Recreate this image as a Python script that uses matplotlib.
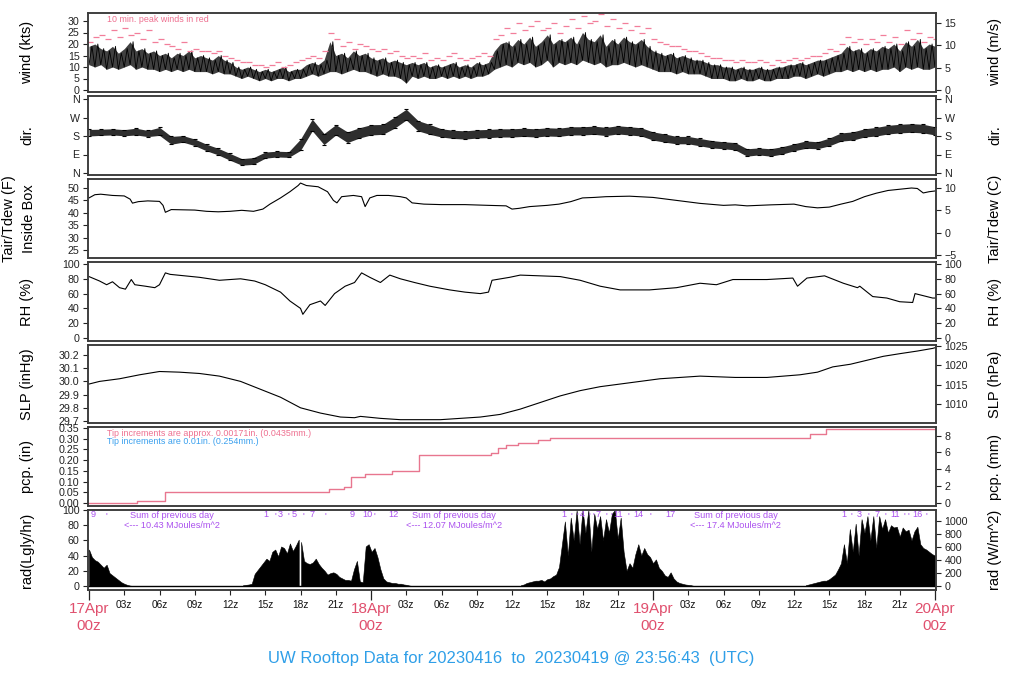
import numpy as np
import matplotlib
matplotlib.use("Agg")
import matplotlib.pyplot as plt
from matplotlib.transforms import blended_transform_factory

plt.rcParams['font.family'] = ['Liberation Sans', 'DejaVu Sans']

# ---------------- data (time in hours from 17Apr 00z) ----------------
wind_step = 0.5
wind_hi = [19,20,18,17,19,16,18,21,17,18,16,
           17,15,16,14,16,15,17,14,15,
           14,13,15,13,12,
           10,9,10,9,
           8,9,8,9,10,8,9,9,
           11,12,11,13,
           21,15,16,14,17,15,16,14,
           13,14,12,13,12,
           11,
           12,11,12,10,
           11,10,11,12,10,11,10,12,11,12,
           17,20,
           21,19,22,20,23,19,21,24,20,22,21,23,20,25,22,21,24,19,22,20,23,21,20,22,19,
           17,16,15,16,14,15,14,13,13,
           12,11,11,10,10,9,10,9,
           9,10,9,9,10,10,
           11,11,12,11,12,13,
           13,14,15,16,
           19,17,18,16,18,17,
           19,18,20,17,21,19,22,18,20,19]
wind_lo = [11,10,11,9,10,9,10,11,9,10,9,
           9,8,9,8,9,8,9,8,8,
           8,7,8,7,7,
           6,5,6,5,
           4,5,4,5,5,4,5,5,
           6,7,6,7,
           8,8,7,8,9,8,8,7,
           6,7,6,6,5,
           3,
           6,5,6,5,
           5,6,5,6,5,6,5,6,6,7,
           9,10,
           11,10,12,11,12,10,11,13,10,12,11,12,11,13,12,11,12,10,11,11,12,11,10,11,10,
           9,8,8,8,7,8,7,7,7,
           6,5,5,5,4,4,5,4,
           4,5,4,4,5,5,
           5,6,6,5,6,7,
           6,7,8,8,
           9,8,9,8,9,8,
           9,9,10,8,10,9,10,9,9,10]
wind_peak = [21,23,24,22,26,23,27,24,25,22,26,
             21,22,20,19,18,21,17,18,17,
             17,16,17,15,14,
             13,12,12,11,
             11,10,11,12,10,11,12,13,
             14,15,14,17,
             25,22,19,21,18,20,19,18,
             17,18,16,17,15,
             14,
             15,14,16,13,
             14,13,15,16,14,13,14,15,16,15,
             22,24,
             27,25,29,26,28,30,26,27,29,25,28,31,27,32,29,30,33,28,31,27,29,26,28,25,27,
             22,21,20,19,19,18,17,17,16,
             15,14,14,13,13,12,13,12,
             12,13,12,11,13,12,
             13,14,13,14,15,15,
             16,18,17,20,
             23,21,22,20,22,21,
             24,21,23,20,26,22,25,21,23,22]

dir_step = 1.0
dir_lo = [180,183,185,181,185,177,183,140,150,133,108,88,62,38,42,72,78,76,110,205,
          138,185,148,170,185,188,218,258,205,188,175,168,165,170,172,175,175,178,175,180,
          178,185,185,188,182,190,185,180,160,150,142,142,132,122,118,112,82,88,82,92,
          108,120,118,132,155,160,175,180,190,195,198,195,185]
dir_hi = [212,213,215,211,218,207,222,178,182,165,140,120,95,70,75,102,106,104,165,262,
          192,235,200,220,235,236,272,310,255,236,215,208,205,210,212,215,215,218,215,220,
          218,225,225,228,222,230,225,220,200,190,178,178,168,158,152,148,118,122,118,128,
          142,156,152,170,195,200,215,222,232,237,240,237,225]

tair_t = [0,0.5,1,2,3,3.5,3.7,4.2,5,6,6.3,6.5,7,8,9,10,11,12,13,14,14.8,15.4,16.3,17.1,17.8,18,
          18.5,19.5,20.3,20.8,21.1,21.5,22.5,23.2,23.5,23.9,24.5,25.5,26.5,27,27.5,28.5,30,32,34,
          35.5,36,36.6,37.5,39,40,41,42,43,44,46,48,50,52,54,55,56,58,60,61,62,63,64,65,66,67,68,
          69,70,70.5,71,71.5,72]
tair_f = [46,47.3,47.5,47,46.8,45.5,43.9,44.5,44.8,44.6,43,40.2,41.3,41.2,41.1,40.6,40.4,40.6,41,
          40.6,41.5,43.5,46,48.5,51,52,51,50.5,48.5,45,44,46.5,47,46.5,42.5,46,47,47,46.5,46,44,
          43.5,43.3,43.3,43,42.8,41.5,41.8,42.5,43,43.5,44.5,46,46.2,46.5,46.7,46.2,45,43.8,43,
          43.2,42.8,43.2,43.5,42.5,42,42.3,43.5,44.6,46.5,47.9,49,49.5,50,49.8,48,48.5,48.8]

rh_t = [0,0.9,1.5,2.0,2.6,3.1,3.6,3.9,4.8,5.6,6.0,6.5,6.9,9.4,11.1,12.9,14.1,15,16.3,17.1,18,
        18.2,18.8,19.7,20.1,20.9,21.8,22.6,23.2,23.9,24.8,25.6,26.5,27.7,29,30.7,32,33.3,34,
        34.3,35.8,36.7,40.1,41.8,43.5,45.2,47.7,50,52,53.4,54.8,57.7,59.9,60.3,61.1,62.6,64.2,
        65.4,65.6,66.7,67.9,69,70.1,70.3,71.8,72]
rh_v = [83,77,72,76,68,66,79,72,70,68,72,88,86,82,78,80,77,72,62,50,40,32,45,50,44,60,70,75,
        88,82,75,85,80,75,70,65,62,60,62,78,82,85,83,78,70,65,65,68,74,72,79,79,81,70,81,84,
        74,68,70,56,54,49,48,60,54,54]

slp_t = [0,0.9,2.6,4.3,6,7.7,9.4,11.1,12.9,14.6,16.3,18,19.7,21.4,22.6,23.1,24.8,26.5,29.9,
         33.3,35,36.7,38.4,40.1,41.8,43.5,45.2,46.9,48.6,50.3,52,55,57.7,60.5,62,63.3,64.8,
         66.2,67.6,69,70.5,71.8,72]
slp_v = [29.98,30.0,30.02,30.05,30.075,30.07,30.06,30.04,30.0,29.94,29.88,29.80,29.76,29.73,
         29.725,29.735,29.72,29.71,29.71,29.73,29.75,29.79,29.84,29.89,29.93,29.96,29.98,30.0,
         30.02,30.03,30.04,30.03,30.03,30.05,30.07,30.11,30.13,30.16,30.19,30.21,30.23,30.25,
         30.255]

pcp_t = [0,4.1,6.3,6.45,20.4,21.7,22.3,23.5,25.8,28.1,34.2,34.8,35.5,36.5,38.2,39.2,61.4,62.7,72]
pcp_v = [0.0,0.008,0.01,0.05,0.065,0.075,0.12,0.135,0.15,0.225,0.235,0.255,0.27,0.28,0.295,
         0.302,0.32,0.344,0.344]

rad_step = 0.25
radA_start = 0.0
radA = [48,38,34,32,28,24,28,17,14,11,8,5,3,1.5,0.5,0]
radB1_start = 13.1
radB1 = [1,1.5,2,3,16,21,26,31,36,33,45,48,39,52,50,43,56,46,53,61]
radB2_start = 18.05
radB2 = [58,33,30,29,31,36,29,24,20,15,17,18,16,12,10,8,8,7,22,33,6,5,52,55,45,50,38,22,
         10,6,5,4,4,3,3,2,1.5,0.5,0]
radC_start = 36.75
radC = [1,2,4,5,6,7,7,8,6,9,10,13,15,25,55,85,40,90,60,100,55,100,70,100,45,95,75,92,60,88,
        70,95,100,62,90,45,20,30,24,42,55,40,50,42,38,30,35,24,20,14,12,18,10,6,4,3,2,1.5,1,0]
radD_start = 61.0
radD = [1,2,3,4,5,6,7,7,9,12,15,22,30,55,30,75,45,82,40,88,70,92,60,92,50,92,75,88,70,80,77,
        78,65,77,72,74,60,72,78,55,50,48,45,42,40]

rad_marks_t = [0.34,1.5,15.06,15.83,16.31,16.94,17.45,18.21,18.95,20.09,22.38,23.66,24.26,25.87,
               40.43,41.02,41.53,41.96,42.55,42.89,43.32,44.0,44.43,45.02,45.87,46.72,47.74,49.45,
               64.26,64.85,65.53,66.3,67.06,67.74,68.6,69.36,69.7,70.55,71.3]
rad_marks = ['9',"'",'1',"'",'3',"'",'5',"'",'7',"'",'9','10',"'",'12',
             '1',"'","'",'4',"'","'",'7',"'","'",'11',"'",'14',"'",'17',
             '1',"'",'3',"'",'7',"'",'11',"'","'",'16',"'"]
sum_t = [7.03, 31.1, 55.05]
sum_vals = ['10.43', '12.07', '17.4']

hour_ticks = [3,6,9,12,15,18,21,27,30,33,36,39,42,45,51,54,57,60,63,66,69]
hour_labels = ['03z','06z','09z','12z','15z','18z','21z','03z','06z','09z','12z','15z','18z',
               '21z','03z','06z','09z','12z','15z','18z','21z']
day_ticks = [0,24,48,72]
day_labels = ['17Apr','18Apr','19Apr','20Apr']

title = "UW Rooftop Data for 20230416  to  20230419 @ 23:56:43  (UTC)"

# ---------------- figure ----------------
W, H = 1024.0, 700.0
fig = plt.figure(figsize=(10.24, 7.0), dpi=100)
L, R = 88, 936
panels_px = [(13, 92), (96, 175), (179, 258), (262, 341), (345, 423), (427, 506), (510, 590)]
# (value, pixel row) pairs for each panel's left scale
calib = [((0, 90), (30, 21)), ((0, 173), (360, 99)), ((25, 250), (50, 188)),
         ((0, 338), (100, 264)), ((29.7, 421), (30.2, 355)), ((0, 503), (0.35, 428)),
         ((0, 586), (100, 510))]
XL = (-1/11.75, 72 + 1/11.75)
frame = '#3a3a3a'
tfs = 7.7
red_txt = '#e0506e'
pink = '#ee7090'
peak_col = '#f27e9a'
purple = '#aa50ee'
blue = '#2f9fe8'


def ylim_for(i):
    (v0, p0), (v1, p1) = calib[i]
    top, bot = panels_px[i]
    k = (v1 - v0) / (p1 - p0)
    return (v0 + (bot - p0) * k, v0 + (top - p0) * k)


def mk(i):
    top, bot = panels_px[i]
    ax = fig.add_axes([L/W, 1-bot/H, (R-L)/W, (bot-top)/H])
    ax.set_xlim(*XL)
    ax.set_ylim(*ylim_for(i))
    ax.tick_params(axis='x', which='both', bottom=False, labelbottom=False)
    ax.tick_params(axis='y', direction='out', length=3.6, width=0.8, labelsize=tfs, pad=2.5,
                   colors='#222222')
    for s in ax.spines.values():
        s.set_color(frame)
        s.set_linewidth(1.1)
    return ax


def twin(ax, f, ticks, labels=None):
    tw = ax.twinx()
    lo, hi = ax.get_ylim()
    tw.set_ylim(f(lo), f(hi))
    tw.set_yticks(ticks)
    if labels is not None:
        tw.set_yticklabels(labels)
    tw.tick_params(axis='y', direction='out', length=3.6, width=0.8, labelsize=tfs, pad=2.5,
                   colors='#222222')
    for s in tw.spines.values():
        s.set_color(frame)
        s.set_linewidth(1.1)
    return tw


def fy(px):
    return 1 - px/H


def side_labels(i, left, right, left2=None):
    top, bot = panels_px[i]
    yc = fy((top+bot)/2)
    if left2 is None:
        fig.text(27/W, yc, left, rotation=90, ha='center', va='center', fontsize=10.5)
    else:
        fig.text(9/W, yc, left, rotation=90, ha='center', va='center', fontsize=10.5)
        fig.text(29/W, yc, left2, rotation=90, ha='center', va='center', fontsize=10.5)
    fig.text(995/W, yc, right, rotation=90, ha='center', va='center', fontsize=10.5)


ident = lambda v: v

# wind
ax = mk(0)
tw_ = np.arange(len(wind_hi)) * wind_step
ax.fill_between(tw_, wind_lo, wind_hi, color='black', lw=0, alpha=0.75)
zz_t = np.column_stack([tw_, tw_ + wind_step/2]).ravel()
zz_v = np.column_stack([wind_lo, wind_hi]).ravel()
ax.plot(zz_t, zz_v, color='black', lw=0.6)
ax.plot(tw_ + 0.1, wind_peak, ls='none', marker='_', ms=4, mew=0.9, color=peak_col)
ax.set_yticks(range(0, 31, 5))
twin(ax, lambda v: v * 0.5144, [0, 5, 10, 15])
fig.text(107/W, fy(19), '10 min. peak winds in red', fontsize=6.4, color=pink, va='center')
side_labels(0, 'wind (kts)', 'wind (m/s)')

# direction
ax = mk(1)
td = np.arange(len(dir_lo)) * dir_step
ax.fill_between(td, dir_lo, dir_hi, color='#111111', lw=0, alpha=0.88)
ax.plot(td, dir_lo, ls='none', marker='_', ms=3.5, mew=0.8, color='black')
ax.plot(td, dir_hi, ls='none', marker='_', ms=3.5, mew=0.8, color='black')
ax.set_yticks([0, 90, 180, 270, 360])
ax.set_yticklabels(['N', 'E', 'S', 'W', 'N'])
twin(ax, ident, [0, 90, 180, 270, 360], ['N', 'E', 'S', 'W', 'N'])
side_labels(1, 'dir.', 'dir.')

# temperature
ax = mk(2)
ax.plot(tair_t, tair_f, color='black', lw=0.8)
ax.set_yticks(range(25, 51, 5))
twin(ax, lambda v: (v - 32) * 5 / 9, [-5, 0, 5, 10])
side_labels(2, 'Tair/Tdew (F)', 'Tair/Tdew (C)', left2='Inside Box')

# RH
ax = mk(3)
ax.plot(rh_t, rh_v, color='black', lw=0.8)
ax.set_yticks(range(0, 101, 20))
twin(ax, ident, range(0, 101, 20))
side_labels(3, 'RH (%)', 'RH (%)')

# SLP
ax = mk(4)
ax.plot(slp_t, slp_v, color='black', lw=0.8)
ax.set_yticks([29.7, 29.8, 29.9, 30.0, 30.1, 30.2])
ax.set_yticklabels(['29.7', '29.8', '29.9', '30.0', '30.1', '30.2'])
twin(ax, lambda v: v * 33.8639, [1010, 1015, 1020, 1025])
side_labels(4, 'SLP (inHg)', 'SLP (hPa)')

# precipitation
ax = mk(5)
ax.plot(pcp_t, pcp_v, drawstyle='steps-post', color='#e8768f', lw=1.0)
pt = [0, 0.05, 0.10, 0.15, 0.20, 0.25, 0.30, 0.35]
ax.set_yticks(pt)
ax.set_yticklabels(['%.2f' % v for v in pt])
twin(ax, lambda v: v * 25.4, [0, 2, 4, 6, 8])
fig.text(107/W, fy(433), 'Tip increments are approx. 0.00171in. (0.0435mm.)', fontsize=6.4,
         color=pink, va='center')
fig.text(107/W, fy(441.5), 'Tip increments are 0.01in. (0.254mm.)', fontsize=6.4,
         color='#3aa0ee', va='center')
side_labels(5, 'pcp. (in)', 'pcp. (mm)')

# radiation
ax = mk(6)
for start, vals in [(radA_start, radA), (radB1_start, radB1), (radB2_start, radB2),
                    (radC_start, radC), (radD_start, radD)]:
    tt = start + np.arange(len(vals)) * rad_step
    ax.fill_between(tt, 0, vals, color='black', lw=0.4)
ax.axhline(0, color='black', lw=1.0)
ax.set_yticks(range(0, 101, 20))
twin(ax, lambda v: v * 11.63, range(0, 1001, 200))
side_labels(6, 'rad(Lgly/hr)', 'rad (W/m^2)')
ax.set_xticks(day_ticks)
ax.set_xticks(hour_ticks, minor=True)
ax.tick_params(axis='x', which='major', bottom=True, length=7, width=0.9, direction='out',
               color='#222222', labelbottom=False)
ax.tick_params(axis='x', which='minor', bottom=True, length=3.6, width=0.8, direction='out',
               color='#222222', labelbottom=False)

tr = blended_transform_factory(ax.transData, fig.transFigure)
for t, s in zip(rad_marks_t, rad_marks):
    yy = fy(516.5) if s == "'" else fy(514.5)
    ax.text(t, yy, s, transform=tr, ha='center', va='center', fontsize=6.6, color=purple)
for t, s in zip(sum_t, sum_vals):
    ax.text(t, fy(515), 'Sum of previous day', transform=tr, ha='center', va='center',
            fontsize=6.6, color=purple)
    ax.text(t, fy(525.5), '<--- %s MJoules/m^2' % s, transform=tr, ha='center', va='center',
            fontsize=6.6, color=purple)
for t, s in zip(hour_ticks, hour_labels):
    ax.text(t, fy(605), s, transform=tr, ha='center', va='center', fontsize=7.3, color='#111111')
for t, s in zip(day_ticks, day_labels):
    ax.text(t, fy(609), s, transform=tr, ha='center', va='center', fontsize=11, color=red_txt)
    ax.text(t, fy(626), '00z', transform=tr, ha='center', va='center', fontsize=11, color=red_txt)

fig.text(511.5/W, fy(658.5), title, ha='center', va='center', fontsize=12, color=blue)

fig.savefig('out.png', dpi=100)
